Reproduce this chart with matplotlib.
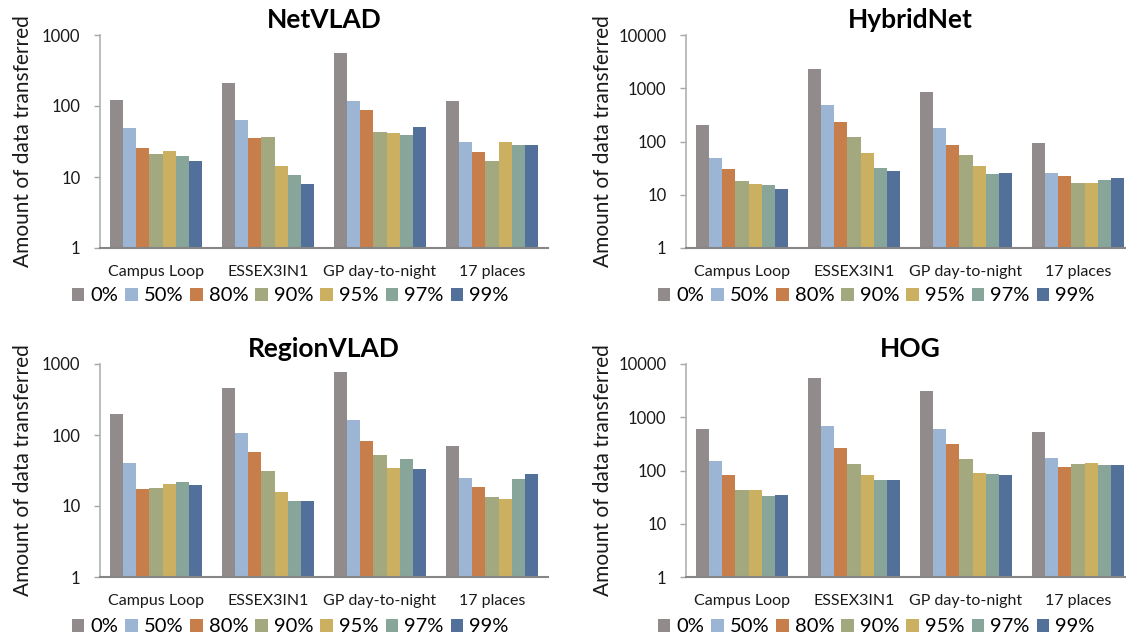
import numpy as np
import matplotlib
matplotlib.use("Agg")
import matplotlib.pyplot as plt
from matplotlib.patches import Patch
from matplotlib.ticker import FixedLocator, FixedFormatter, NullLocator

plt.rcParams['font.family'] = ['Lato', 'DejaVu Sans']

datasets = ["Campus Loop", "ESSEX3IN1", "GP day-to-night", "17 places"]
levels = ["0%", "50%", "80%", "90%", "95%", "97%", "99%"]
colors = ["#928B8B", "#9DB5D5", "#C77E4B", "#A3A87F", "#CBB061", "#87A598", "#53709A"]

# rows: dataset, columns: compression level
netvlad = [
    [120, 49, 25.7, 20.8, 23.6, 19.9, 16.9],
    [214, 63, 35, 36.8, 14.4, 10.6, 7.9],
    [559, 118, 89, 42.8, 41, 38.8, 51],
    [118, 31.6, 22.6, 16.7, 31.6, 28.1, 28.1],
]
hybridnet = [
    [201, 49.8, 30.6, 18.2, 16, 15.3, 12.9],
    [2276, 482, 228, 121, 61.8, 32.4, 28.4],
    [845, 179, 84.7, 55, 34.8, 25, 25.7],
    [93.7, 25.4, 22.6, 16.9, 16.9, 18.8, 21],
]
regionvlad = [
    [198, 40.5, 17.1, 17.9, 20.3, 21.7, 19.9],
    [465, 107, 56.7, 31.3, 15.5, 11.6, 11.6],
    [773, 165, 83.6, 52, 34.5, 45.2, 33.4],
    [70.3, 24.9, 18.4, 13.6, 12.4, 23.9, 27.8],
]
hog = [
    [596, 154, 83, 43.4, 43.4, 33, 34.5],
    [5386, 678, 266, 133, 84, 66.8, 65],
    [3162, 613, 312, 163, 91.7, 85.3, 83],
    [538, 175, 115, 131, 139, 128, 128],
]

panels = [
    ("NetVLAD", netvlad, 1000),
    ("HybridNet", hybridnet, 10000),
    ("RegionVLAD", regionvlad, 1000),
    ("HOG", hog, 10000),
]

W, H = 1126, 637
fig = plt.figure(figsize=(W / 100, H / 100), dpi=100)

# axes boxes in pixels: left, top, right, bottom
boxes = [
    (100, 35, 548, 248),
    (686, 35, 1134, 248),
    (100, 364, 548, 577),
    (686, 364, 1134, 577),
]
legend_centers = [(290, 296), (876, 296), (290, 627), (876, 627)]
ylabel_offsets = [-67, -73, -67, -73]

n = len(levels)
bw = 1.0 / (n + 1.5)
x = np.arange(len(datasets))

for (title, data, ymax), (l, t, r, b), (lx, ly), yoff in zip(
        panels, boxes, legend_centers, ylabel_offsets):
    ax = fig.add_axes([l / W, 1 - b / H, (r - l) / W, (b - t) / H])
    vals = np.array(data)
    for j in range(n):
        offs = x - 0.5 + 0.75 * bw + j * bw
        ax.bar(offs, vals[:, j], width=bw, align="edge", color=colors[j],
               linewidth=0)
    ax.set_yscale("log")
    ax.set_ylim(1, ymax)
    ax.set_xlim(-0.5, len(datasets) - 0.5)
    decades = [10 ** k for k in range(int(np.log10(ymax)) + 1)]
    ax.yaxis.set_major_locator(FixedLocator(decades))
    ax.yaxis.set_major_formatter(FixedFormatter([str(d) for d in decades]))
    ax.yaxis.set_minor_locator(NullLocator())
    ax.set_xticks(x)
    ax.set_xticklabels(datasets, fontsize=11.5, color="#1a1a1a")
    ax.tick_params(axis="x", length=0, pad=12)
    ax.tick_params(axis="y", length=4, width=1, color="#A6A6A6", pad=10,
                   labelsize=12, labelcolor="#1a1a1a")
    for s in ("top", "right"):
        ax.spines[s].set_visible(False)
    ax.spines["left"].set_color("#B0B0B0")
    ax.spines["left"].set_linewidth(1.2)
    ax.spines["bottom"].set_color("#868686")
    ax.spines["bottom"].set_linewidth(1.5)
    ax.set_ylabel("Amount of data transferred", fontsize=15, color="#1a1a1a")
    ax.yaxis.set_label_coords(yoff / (r - l), 0.5)
    ax.set_title(title, fontsize=19, fontweight="bold", pad=5)

    handles = [Patch(facecolor=c, edgecolor="none") for c in colors]
    fig.legend(handles, levels, loc="center", bbox_to_anchor=(lx / W, 1 - ly / H),
               ncol=n, frameon=False, fontsize=14.5, handlelength=0.62,
               handleheight=0.62, handletextpad=0.3, columnspacing=0.35,
               borderpad=0, borderaxespad=0)

fig.savefig("out.png", dpi=100)
